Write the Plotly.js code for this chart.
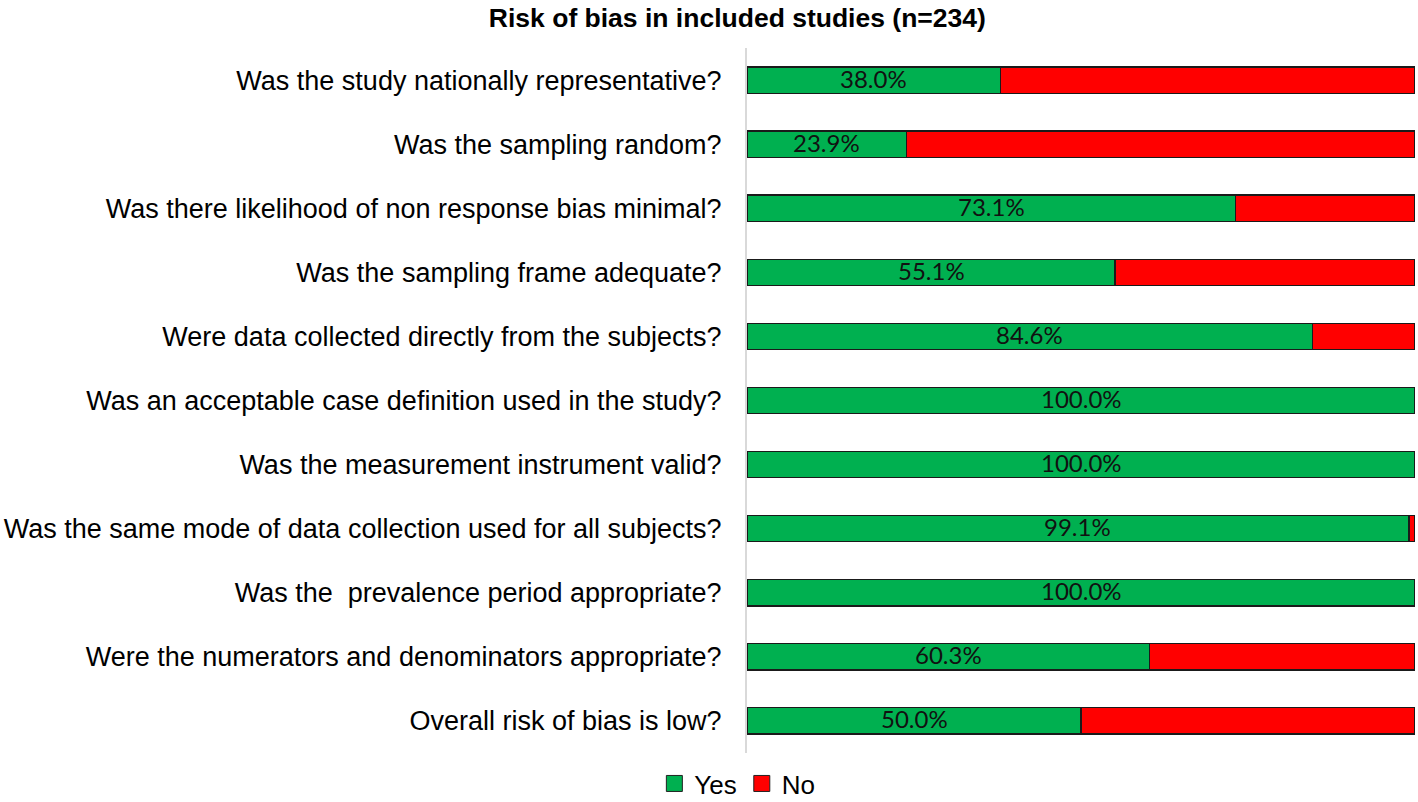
<!DOCTYPE html>
<html>
<head>
<meta charset="utf-8">
<script src="https://cdn.plot.ly/plotly-3.0.1.min.js"></script>
<style>
  html, body { margin: 0; padding: 0; background: #fff; }
  #plot { width: 1418px; height: 802px; }
</style>
</head>
<body>
<div id="plot"></div>
<script>
// risk of bias questions, top to bottom
const questions = [
  'Was the study nationally representative?',
  'Was the sampling random?',
  'Was there likelihood of non response bias minimal?',
  'Was the sampling frame adequate?',
  'Were data collected directly from the subjects?',
  'Was an acceptable case definition used in the study?',
  'Was the measurement instrument valid?',
  'Was the same mode of data collection used for all subjects?',
  'Was the  prevalence period appropriate?',
  'Were the numerators and denominators appropriate?',
  'Overall risk of bias is low?'
];
const yesPct = [38.0, 23.9, 73.1, 55.1, 84.6, 100.0, 100.0, 99.1, 100.0, 60.3, 50.0];
const noPct = [62.0, 76.1, 26.9, 44.9, 15.4, 0.0, 0.0, 0.9, 0.0, 39.7, 50.0];

const green = '#00B050';
const red = '#FF0000';
const barLine = { color: '#1a1a1a', width: 1.2 };

const yes = {
  type: 'bar',
  orientation: 'h',
  name: 'Yes',
  y: questions,
  x: yesPct,
  width: 0.41,
  marker: { color: green, line: barLine },
  showlegend: false,
  hoverinfo: 'x+y'
};

const no = {
  type: 'bar',
  orientation: 'h',
  name: 'No',
  y: questions,
  x: noPct,
  width: 0.41,
  marker: { color: red, line: barLine },
  showlegend: false,
  hoverinfo: 'x+y'
};

// legend only: bigger squares like the original
function legendItem(name, color) {
  return {
    type: 'scatter',
    mode: 'markers',
    name: name,
    x: [null],
    y: [null],
    marker: { symbol: 'square', size: 17, color: color, line: { color: '#222', width: 1 } },
    hoverinfo: 'skip'
  };
}

// data labels in the middle of the green part
const labelNotes = questions.map((q, i) => ({
  x: yesPct[i] / 2,
  y: q,
  xref: 'x',
  yref: 'y',
  text: yesPct[i].toFixed(1) + '%',
  showarrow: false,
  yshift: 2,
  font: { family: 'Lato, "Open Sans", sans-serif', size: 24, color: '#111' }
}));

const layout = {
  width: 1418,
  height: 802,
  barmode: 'stack',
  paper_bgcolor: '#fff',
  plot_bgcolor: '#fff',
  margin: { l: 747, r: 3, t: 48, b: 49 },
  title: {
    text: '<b>Risk of bias in included studies (n=234)</b>',
    x: 0.52,
    xanchor: 'center',
    y: 0.978,
    yanchor: 'middle',
    font: { family: '"Liberation Sans", Arial, sans-serif', size: 26.5, color: '#000' }
  },
  xaxis: {
    range: [0, 100],
    visible: false,
    fixedrange: true
  },
  yaxis: {
    autorange: 'reversed',
    showline: true,
    linecolor: '#d9d9d9',
    linewidth: 2,
    showgrid: false,
    ticks: '',
    ticklabelstandoff: 18,
    tickfont: { family: '"Liberation Sans", Arial, sans-serif', size: 27, color: '#000' }
  },
  annotations: labelNotes,
  showlegend: true,
  legend: {
    orientation: 'h',
    xref: 'container',
    yref: 'container',
    x: 0.52,
    xanchor: 'center',
    y: 0.023,
    yanchor: 'middle',
    font: { family: '"Liberation Sans", Arial, sans-serif', size: 26, color: '#000' },
    itemwidth: 30,
    traceorder: 'normal'
  }
};

Plotly.newPlot('plot', [yes, no, legendItem('Yes', green), legendItem('No', red)], layout,
  { displayModeBar: false, staticPlot: true });
</script>
</body>
</html>
